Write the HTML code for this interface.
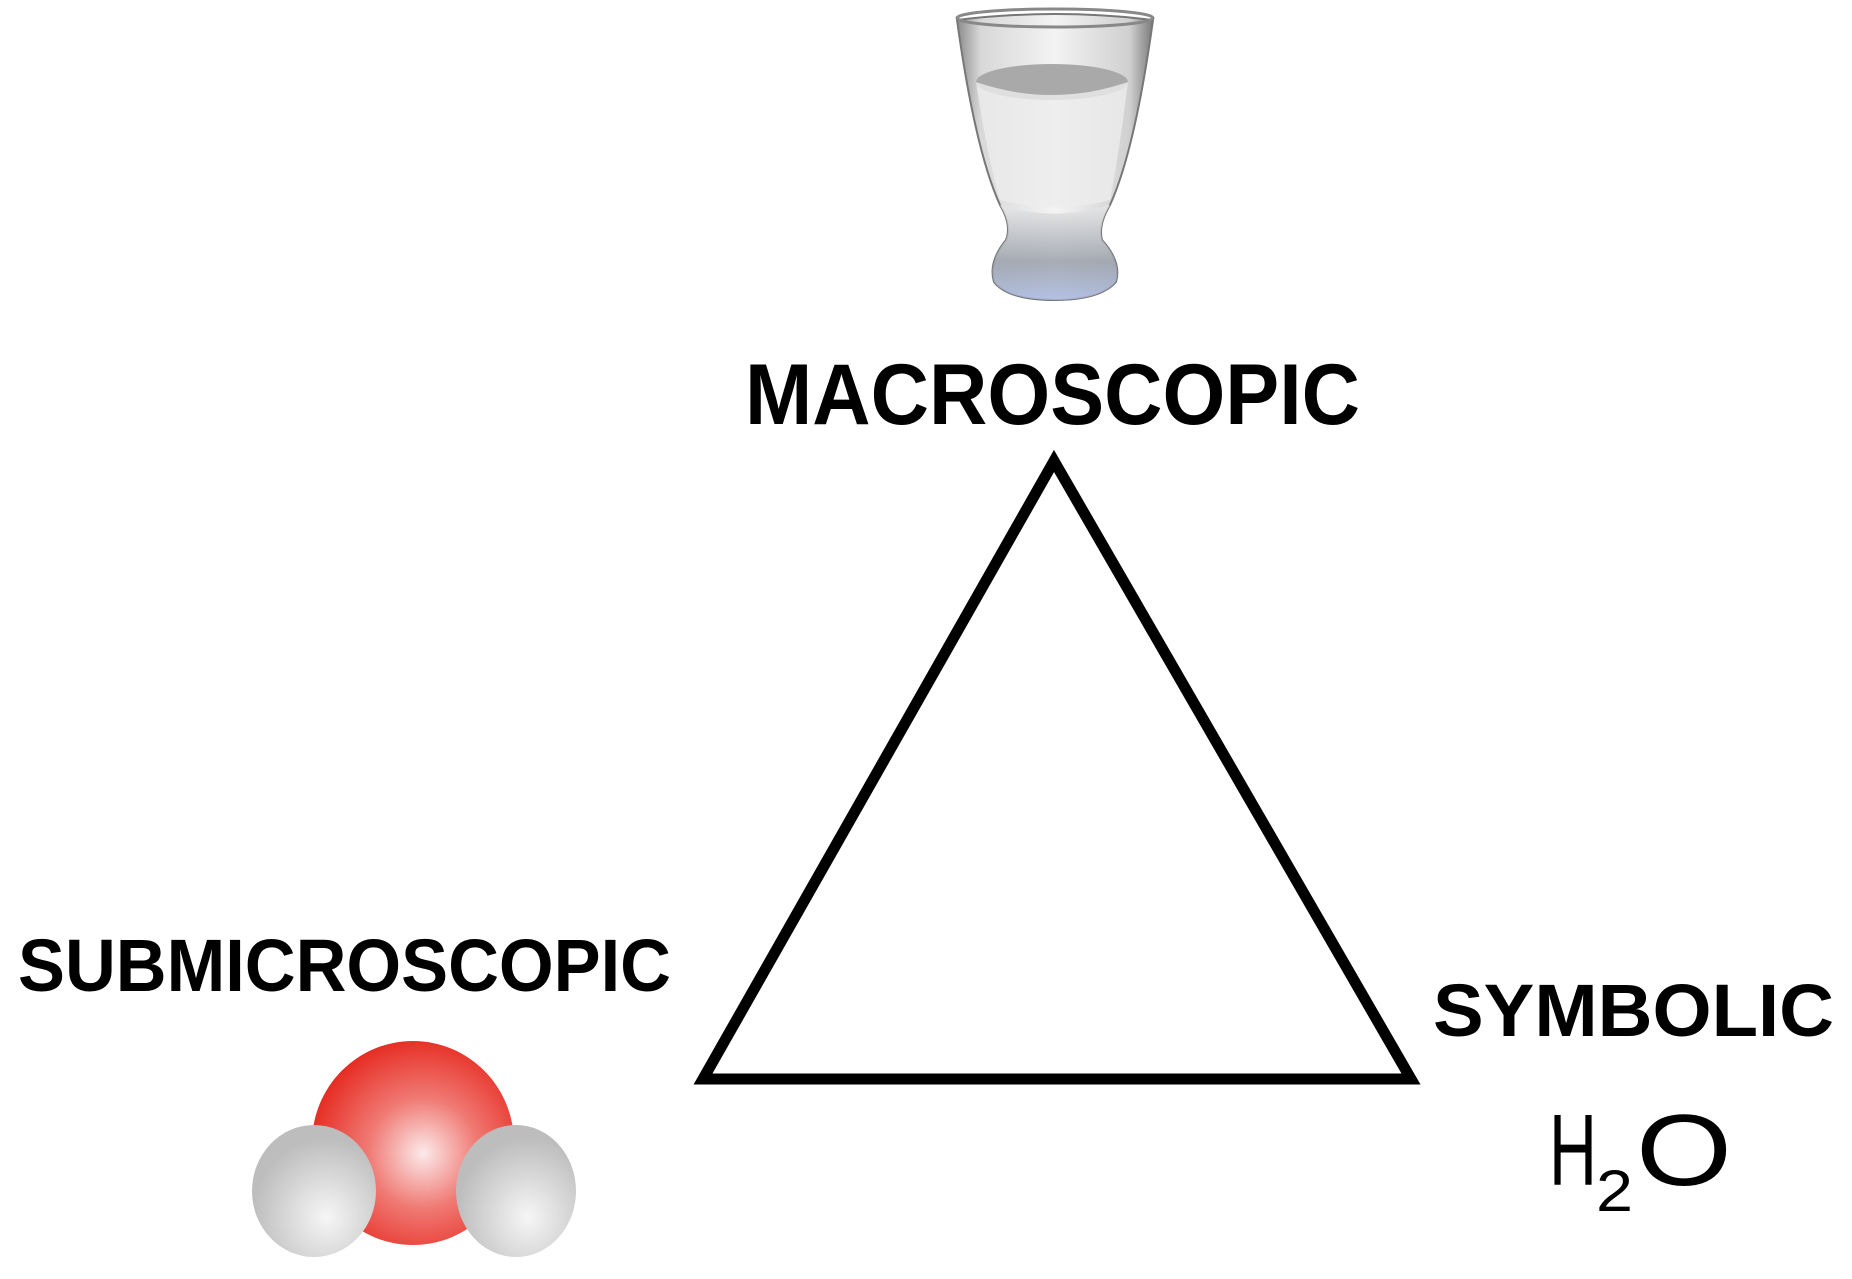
<!DOCTYPE html>
<html><head><meta charset="utf-8"><style>
html,body{margin:0;padding:0;background:#fff;}
svg{display:block;}
</style></head><body>
<svg width="1852" height="1279" viewBox="0 0 1852 1279" xmlns="http://www.w3.org/2000/svg">
<defs>
<radialGradient id="red" cx="0.55" cy="0.55" r="0.6">
<stop offset="0" stop-color="#fbeaea"/>
<stop offset="0.45" stop-color="#f07a74"/>
<stop offset="1" stop-color="#e5241a"/>
</radialGradient>
<radialGradient id="grey" cx="0.6" cy="0.7" r="0.6">
<stop offset="0" stop-color="#f6f6f6"/>
<stop offset="1" stop-color="#bdbdbd"/>
</radialGradient>
<linearGradient id="glass" x1="0" x2="1" y1="0" y2="0">
<stop offset="0" stop-color="#8a8a8a"/>
<stop offset="0.12" stop-color="#d8d8d8"/>
<stop offset="0.5" stop-color="#f3f3f3"/>
<stop offset="0.88" stop-color="#d0d0d0"/>
<stop offset="1" stop-color="#7a7a7a"/>
</linearGradient>
<linearGradient id="base" x1="0" x2="0" y1="0" y2="1">
<stop offset="0" stop-color="#e8e8e8"/>
<stop offset="0.6" stop-color="#9aa0aa"/>
<stop offset="1" stop-color="#a9b8e0"/>
</linearGradient>
</defs>

<!-- glass -->
<path d="M957,20 Q1055,8 1153,20 Q1135,150 1110,205 Q1098,225 1102,240 Q1122,262 1116,282 Q1100,300 1055,300 Q1008,300 994,282 Q988,262 1006,240 Q1012,225 1000,205 Q975,150 957,20 Z" fill="url(#glass)" stroke="#777" stroke-width="2"/>
<path d="M1000,205 Q1055,222 1110,205 Q1098,225 1102,240 Q1122,262 1116,282 Q1100,300 1055,300 Q1008,300 994,282 Q988,262 1006,240 Q1012,225 1000,205 Z" fill="url(#base)" opacity="0.85"/>
<ellipse cx="1055" cy="18" rx="98" ry="9" fill="none" stroke="#888" stroke-width="3"/>
<ellipse cx="1052" cy="82" rx="76" ry="18" fill="#a9a9a9"/>
<path d="M976,82 Q1052,108 1128,82 Q1118,160 1110,200 Q1055,215 1000,200 Q988,160 976,82 Z" fill="#ececec" opacity="0.8"/>

<!-- labels -->
<text x="745" y="424" font-family="Liberation Sans, sans-serif" font-weight="bold" font-size="86" textLength="615" lengthAdjust="spacingAndGlyphs">MACROSCOPIC</text>
<text x="18" y="991" font-family="Liberation Sans, sans-serif" font-weight="bold" font-size="74" textLength="653" lengthAdjust="spacingAndGlyphs">SUBMICROSCOPIC</text>
<text x="1433" y="1036" font-family="Liberation Sans, sans-serif" font-weight="bold" font-size="74" textLength="401" lengthAdjust="spacingAndGlyphs">SYMBOLIC</text>
<text x="1549" y="1185" font-family="Liberation Sans, sans-serif" font-size="101" textLength="48" lengthAdjust="spacingAndGlyphs">H</text>
<text x="1596" y="1211" font-family="Liberation Sans, sans-serif" font-size="58" textLength="37" lengthAdjust="spacingAndGlyphs">2</text>
<text x="1636" y="1185" font-family="Liberation Sans, sans-serif" font-size="101" textLength="96" lengthAdjust="spacingAndGlyphs">O</text>

<!-- triangle -->
<polygon points="1054,461 703,1079 1411,1079" fill="none" stroke="#000" stroke-width="11" stroke-linejoin="miter"/>

<!-- molecule -->
<ellipse cx="413" cy="1143" rx="101" ry="102" fill="url(#red)"/>
<ellipse cx="314" cy="1191" rx="62" ry="66" fill="url(#grey)"/>
<ellipse cx="516" cy="1191" rx="60" ry="66" fill="url(#grey)"/>
</svg>
</body></html>
